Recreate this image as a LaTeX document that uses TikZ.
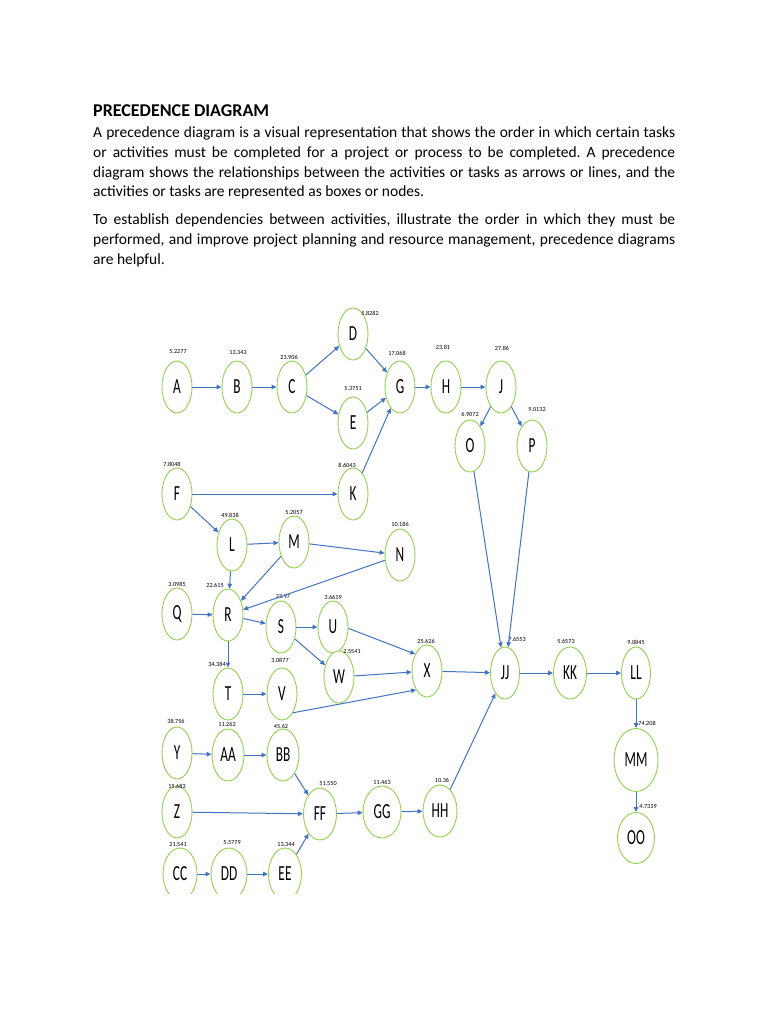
\documentclass[tikz,border=0pt]{standalone}
\usepackage{fontspec}
\setmainfont{Carlito}
\usepackage{graphicx}
\usetikzlibrary{shapes.geometric,arrows.meta}
\definecolor{nodegreen}{RGB}{146,208,80}
\definecolor{arrowblue}{RGB}{68,114,196}
\newcommand{\actlbl}[1]{\scalebox{0.62}[1]{\fontsize{21.5}{21.5}\selectfont #1}}
\hyphenpenalty=10000
\exhyphenpenalty=10000
\frenchspacing
\begin{document}
\begin{tikzpicture}[x=1pt,y=-1pt,
  act/.style={ellipse,draw=nodegreen,line width=0.9pt,minimum width=30pt,minimum height=52pt,inner sep=0pt,fill=white},
  dur/.style={font=\fontsize{6.2}{6.5}\selectfont,inner sep=0pt},
  arr/.style={draw=arrowblue,line width=1pt,-{Triangle[length=5pt,width=4.5pt]}},
  para/.style={anchor=north west,text width=582pt,align=justify,inner sep=0pt,
    font=\fontsize{15.5}{19.6}\selectfont}
]
\useasboundingbox[fill=white] (0,0) rectangle (768,1024);

\node[anchor=base west,inner sep=0pt,font=\fontsize{18}{20}\selectfont\bfseries] (title) at (93,117) {PRECEDENCE DIAGRAM};
\node[para] (p1) at (93,124) {\strut A precedence diagram is a visual representation that shows the order in which certain tasks\linebreak or activities must be completed for a project or process to be completed. A precedence\linebreak diagram shows the relationships between the activities or tasks as arrows or lines, and the\linebreak activities or tasks are represented as boxes or nodes.};
\node[para] (p2) at (93,211) {\strut To establish dependencies between activities, illustrate the order in which they must be\linebreak performed, and improve project planning and resource management, precedence diagrams\linebreak are helpful.};

\begin{scope}
\clip (0,0) rectangle (768,893);
% activity nodes
\node[act] (A) at (177,387) {\actlbl{A}};
\node[act] (B) at (237,387) {\actlbl{B}};
\node[act] (C) at (292,387) {\actlbl{C}};
\node[act] (D) at (353,334) {\actlbl{D}};
\node[act] (E) at (353,423) {\actlbl{E}};
\node[act] (G) at (400,387) {\actlbl{G}};
\node[act] (H) at (446,387) {\actlbl{H}};
\node[act] (J) at (501,387) {\actlbl{J}};
\node[act] (O) at (470,446) {\actlbl{O}};
\node[act] (P) at (532,446) {\actlbl{P}};
\node[act] (F) at (177,494) {\actlbl{F}};
\node[act] (K) at (353,494) {\actlbl{K}};
\node[act] (L) at (232,545) {\actlbl{L}};
\node[act] (M) at (294,542) {\actlbl{M}};
\node[act] (N) at (400,555) {\actlbl{N}};
\node[act] (Q) at (177,614) {\actlbl{Q}};
\node[act] (R) at (228,615) {\actlbl{R}};
\node[act] (S) at (281,627) {\actlbl{S}};
\node[act] (U) at (333,627) {\actlbl{U}};
\node[act] (W) at (339,677) {\actlbl{W}};
\node[act] (X) at (427,671) {\actlbl{X}};
\node[act] (T) at (228,694) {\actlbl{T}};
\node[act] (V) at (282,694) {\actlbl{V}};
\node[act,minimum width=29pt] (JJ) at (505,673) {\actlbl{JJ}};
\node[act,minimum width=33pt] (KK) at (570,673) {\actlbl{KK}};
\node[act,minimum width=29pt] (LL) at (636,673) {\actlbl{LL}};
\node[act,minimum width=44pt,minimum height=63pt] (MM) at (636,760) {\actlbl{MM}};
\node[act,minimum width=37pt,minimum height=51pt] (OO) at (636,838) {\actlbl{OO}};
\node[act] (Y) at (177,753) {\actlbl{Y}};
\node[act,minimum width=32pt] (AA) at (228,755) {\actlbl{AA}};
\node[act,minimum width=32pt] (BB) at (283,755) {\actlbl{BB}};
\node[act] (Z) at (177,812) {\actlbl{Z}};
\node[act,minimum width=33pt] (FF) at (320,814) {\actlbl{FF}};
\node[act,minimum width=38pt] (GG) at (382,812) {\actlbl{GG}};
\node[act,minimum width=34pt] (HH) at (440,811) {\actlbl{HH}};
\node[act,minimum width=34pt] (CC) at (180,874) {\actlbl{CC}};
\node[act,minimum width=36pt] (DD) at (229,874) {\actlbl{DD}};
\node[act,minimum width=33pt] (EE) at (285,874) {\actlbl{EE}};

% durations
\node[dur] (tA) at (178,352) {5.2277};
\node[dur] (tB) at (238,353) {13.343};
\node[dur] (tC) at (289,357) {23.906};
\node[dur] (tD) at (370,313) {5.8282};
\node[dur] (tE) at (353,389) {5.3751};
\node[dur] (tG) at (397,353) {17.068};
\node[dur] (tH) at (443,347) {23.81};
\node[dur] (tJ) at (502,348) {27.86};
\node[dur] (tO) at (470,414) {6.9072};
\node[dur] (tP) at (537,410) {9.0132};
\node[dur] (tF) at (172,464) {7.8048};
\node[dur] (tK) at (347,465) {8.6043};
\node[dur] (tL) at (230,515) {49.838};
\node[dur] (tM) at (294,513) {5.2057};
\node[dur] (tN) at (400,524) {10.186};
\node[dur] (tQ) at (177,584) {3.0985};
\node[dur] (tR) at (215,585) {22.615};
\node[dur] (tS) at (283,597) {23.97};
\node[dur] (tU) at (333,597) {3.6619};
\node[dur] (tW) at (352,652) {2.5541};
\node[dur] (tX) at (426,641) {25.626};
\node[dur] (tT) at (217,664) {34.384};
\node[dur] (tV) at (280,660) {3.0877};
\node[dur] (tJJ) at (517,639) {7.6553};
\node[dur] (tKK) at (566,641) {5.6573};
\node[dur] (tLL) at (636,642) {9.0845};
\node[dur] (tMM) at (647,723) {74.208};
\node[dur] (tOO) at (648,807) {4.7339};
\node[dur] (tY) at (176,721) {38.756};
\node[dur] (tAA) at (227,724) {11.262};
\node[dur] (tBB) at (281,726) {45.62};
\node[dur] (tZ) at (177,786) {15.683};
\node[dur] (tFF) at (328,784) {51.550};
\node[dur] (tGG) at (382,782) {11.463};
\node[dur] (tHH) at (442,780) {10.36};
\node[dur] (tCC) at (178,845) {21.541};
\node[dur] (tDD) at (232,843) {5.5779};
\node[dur] (tEE) at (286,845) {13.344};

% connectors
\draw[arr] (A) -- (B);
\draw[arr] (B) -- (C);
\draw[arr] (C) -- (D);
\draw[arr] (C) -- (E);
\draw[arr] (D) -- (G);
\draw[arr] (E) -- (G);
\draw[arr] (K) -- (G);
\draw[arr] (G) -- (H);
\draw[arr] (H) -- (J);
\draw[arr] (J) -- (O);
\draw[arr] (J) -- (P);
\draw[arr] (O) -- (JJ);
\draw[arr] (P) -- (JJ);
\draw[arr] (F) -- (K);
\draw[arr] (F) -- (L);
\draw[arr] (L) -- (M);
\draw[arr] (M) -- (N);
\draw[arr] (L) -- (R);
\draw[arr] (M) -- (R);
\draw[arr] (N) -- (R);
\draw[arr] (Q) -- (R);
\draw[arr] (R) -- (S);
\draw[arr] (R) -- (T);
\draw[arr] (S) -- (U);
\draw[arr] (S) -- (W);
\draw[arr] (U.-5) -- (X.125);
\draw[arr] (W) -- (X);
\draw[arr] (T) -- (V);
\draw[arr] (V.-60) -- (X.-120);
\draw[arr] (X) -- (JJ);
\draw[arr] (HH) -- (JJ);
\draw[arr] (JJ) -- (KK);
\draw[arr] (KK) -- (LL);
\draw[arr] (LL) -- (MM);
\draw[arr] (MM) -- (OO);
\draw[arr] (Y) -- (AA);
\draw[arr] (AA) -- (BB);
\draw[arr] (BB) -- (FF);
\draw[arr] (Z) -- (FF);
\draw[arr] (EE) -- (FF);
\draw[arr] (FF) -- (GG);
\draw[arr] (GG) -- (HH);
\draw[arr] (CC) -- (DD);
\draw[arr] (DD) -- (EE);
\end{scope}
\end{tikzpicture}
\end{document}
